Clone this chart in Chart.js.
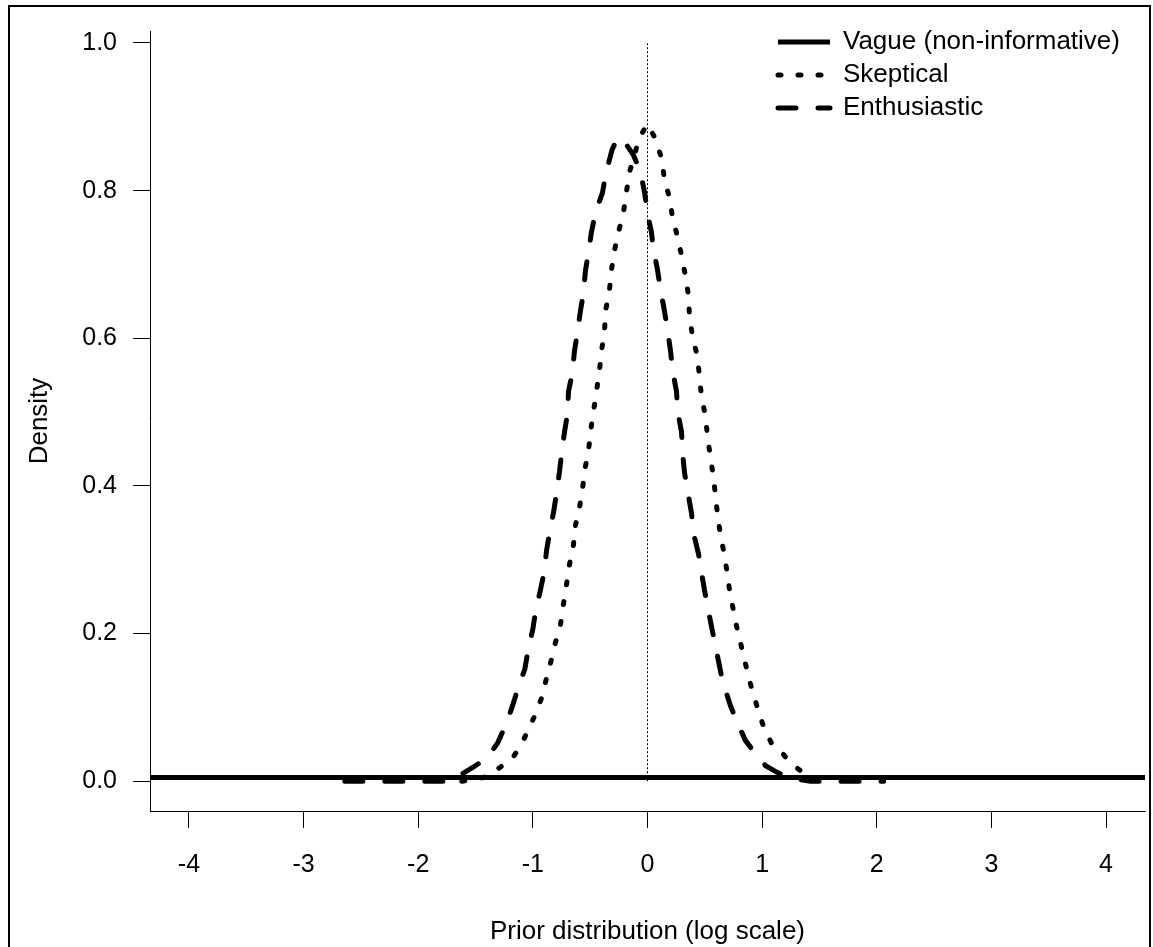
<!DOCTYPE html>
<html>
<head>
<meta charset="utf-8">
<script src="https://cdn.jsdelivr.net/npm/chart.js@4.4.0/dist/chart.umd.min.js"></script>
<style>
  html, body { margin: 0; padding: 0; background: #fff; }
  #wrap { position: relative; width: 1153px; height: 947px; overflow: hidden; }
  #frame { position: absolute; left: 8px; top: 5px; width: 1139px; height: 1000px; border: 2px solid #000; pointer-events: none; }
</style>
</head>
<body>
<div id="wrap">
  <canvas id="chart" width="1153" height="947"></canvas>
  <div id="frame"></div>
</div>
<script>
// prior densities (x = log scale, y = density)
const vagueX = [-100, 100]
const vagueY = [0.005, 0.005]

const skepticalX = [-1.62, -1.43, -1.31, -1.18, -1.10, -1.03, -0.977, -0.916, -0.881, -0.838,
  -0.803, -0.759, -0.733, -0.707, -0.681, -0.646, -0.628, -0.593, -0.567, -0.55,
  -0.515, -0.497, -0.471, -0.445, -0.419, -0.401, -0.375, -0.366, -0.332, -0.314,
  -0.288, -0.253, -0.209, -0.183, -0.157, -0.07, 0, 0.07, 0.122, 0.148,
  0.192, 0.218, 0.262, 0.297, 0.332, 0.358, 0.366, 0.393, 0.436, 0.454,
  0.471, 0.506, 0.524, 0.55, 0.576, 0.593, 0.611, 0.637, 0.672, 0.698,
  0.716, 0.768, 0.829, 0.89, 0.96, 1.01, 1.08, 1.17, 1.26, 1.38,
  1.47, 1.62]
const skepticalY = [0, 0.005, 0.016, 0.031, 0.050, 0.073, 0.091, 0.116, 0.140, 0.165,
  0.188, 0.212, 0.240, 0.266, 0.293, 0.320, 0.347, 0.371, 0.395, 0.420,
  0.447, 0.473, 0.501, 0.528, 0.556, 0.583, 0.609, 0.637, 0.665, 0.693,
  0.719, 0.744, 0.771, 0.799, 0.825, 0.872, 0.890, 0.870, 0.844, 0.815,
  0.790, 0.764, 0.737, 0.712, 0.684, 0.657, 0.630, 0.602, 0.575, 0.547,
  0.521, 0.494, 0.466, 0.438, 0.411, 0.387, 0.361, 0.333, 0.306, 0.279,
  0.259, 0.216, 0.176, 0.136, 0.099, 0.075, 0.052, 0.039, 0.023, 0.009,
  0.001, 0]

const enthusiasticX = [-2.64, -1.75, -1.65, -1.51, -1.40, -1.31, -1.24, -1.18, -1.13, -1.07,
  -1.04, -1.00, -0.977, -0.934, -0.899, -0.881, -0.855, -0.820, -0.794, -0.768,
  -0.750, -0.724, -0.698, -0.689, -0.654, -0.637, -0.611, -0.585, -0.558, -0.541,
  -0.515, -0.489, -0.454, -0.393, -0.366, -0.31, -0.26, -0.2, -0.122, -0.061,
  -0.026, 0, 0.035, 0.052, 0.087, 0.113, 0.148, 0.175, 0.201, 0.218,
  0.253, 0.262, 0.297, 0.305, 0.323, 0.349, 0.384, 0.401, 0.445, 0.471,
  0.497, 0.55, 0.602, 0.654, 0.724, 0.785, 0.855, 0.934, 1.03, 1.13,
  1.23, 1.42, 2.06]
const enthusiasticY = [0, 0, 0.007, 0.020, 0.032, 0.051, 0.075, 0.101, 0.126, 0.152,
  0.179, 0.206, 0.230, 0.259, 0.285, 0.312, 0.336, 0.364, 0.390, 0.419,
  0.443, 0.473, 0.498, 0.528, 0.555, 0.583, 0.608, 0.637, 0.662, 0.692,
  0.716, 0.744, 0.770, 0.797, 0.821, 0.855, 0.872, 0.866, 0.848, 0.825,
  0.798, 0.770, 0.743, 0.720, 0.693, 0.666, 0.637, 0.610, 0.583, 0.557,
  0.528, 0.502, 0.473, 0.447, 0.418, 0.394, 0.363, 0.336, 0.308, 0.283,
  0.259, 0.216, 0.176, 0.136, 0.102, 0.079, 0.055, 0.039, 0.021, 0.012,
  0.005, 0, 0]

// reference line at zero effect
const nullX = [0, 0]
const nullY = [0, 1]

const xTicks = [-4, -3, -2, -1, 0, 1, 2, 3, 4]
const yTicks = [0, 0.2, 0.4, 0.6, 0.8, 1.0]

const FONT = "'Liberation Sans', Arial, sans-serif"
const toPoints = (xs, ys) => xs.map((x, i) => ({ x: x, y: ys[i] }))

// put the (vertical) legend in the top right corner of the plot
const placeLegend = {
    id: 'placeLegend',
    afterLayout(chart) {
        const lg = chart.legend
        if (!lg) return
        const w = lg.width
        const h = lg.height
        lg.left = 771
        lg.top = 22
        lg.right = lg.left + w
        lg.bottom = lg.top + h
    }
}

const config = {
    type: 'scatter',
    data: {
        datasets: [
            {
                label: 'Vague (non-informative)',
                data: toPoints(vagueX, vagueY),
                showLine: true,
                borderColor: '#000',
                borderWidth: 5,
                borderCapStyle: 'butt',
                pointRadius: 0,
                clip: 0
            },
            {
                label: 'Skeptical',
                data: toPoints(skepticalX, skepticalY),
                showLine: true,
                borderColor: '#000',
                borderWidth: 5,
                borderDash: [3, 17],
                borderCapStyle: 'round',
                pointRadius: 0
            },
            {
                label: 'Enthusiastic',
                data: toPoints(enthusiasticX, enthusiasticY),
                showLine: true,
                borderColor: '#000',
                borderWidth: 5,
                borderDash: [18, 22],
                borderCapStyle: 'round',
                pointRadius: 0
            },
            {
                data: toPoints(nullX, nullY),
                showLine: true,
                borderColor: '#000',
                borderWidth: 1,
                borderDash: [2, 2],
                pointRadius: 0
            }
        ]
    },
    options: {
        responsive: false,
        animation: false,
        devicePixelRatio: 1,
        layout: { padding: { left: 0, top: 25, right: 8, bottom: 0 } },
        plugins: {
            tooltip: { enabled: false },
            legend: {
                position: 'chartArea',
                fullSize: false,
                align: 'start',
                labels: {
                    usePointStyle: true,
                    pointStyleWidth: 52,
                    padding: 7,
                    color: '#000',
                    font: { family: FONT, size: 26 },
                    generateLabels: (chart) => chart.data.datasets
                        .map((ds, i) => ({
                            text: ds.label,
                            strokeStyle: ds.borderColor,
                            fillStyle: ds.borderColor,
                            fontColor: '#000',
                            lineWidth: ds.borderWidth,
                            lineDash: ds.borderDash || [],
                            lineCap: ds.borderCapStyle,
                            pointStyle: 'line',
                            hidden: false,
                            datasetIndex: i
                        }))
                        .filter(item => item.text)
                }
            }
        },
        scales: {
            x: {
                type: 'linear',
                min: -4.34,
                max: 4.34,
                afterFit: (scale) => { scale.height = 136 },
                afterBuildTicks: (scale) => { scale.ticks = xTicks.map(v => ({ value: v })) },
                border: { display: true, color: '#000', width: 1 },
                grid: { drawOnChartArea: false, drawTicks: true, tickLength: 17, color: '#000' },
                ticks: {
                    color: '#000',
                    font: { family: FONT, size: 25 },
                    padding: 22,
                    maxRotation: 0,
                    autoSkip: false,
                    callback: (v) => String(v)
                },
                title: {
                    display: true,
                    text: 'Prior distribution (log scale)',
                    color: '#000',
                    font: { family: FONT, size: 26 },
                    padding: { top: 0, bottom: 0 }
                }
            },
            y: {
                type: 'linear',
                min: -0.0403,
                max: 1.0162,
                afterFit: (scale) => { scale.width = 150 },
                afterBuildTicks: (scale) => { scale.ticks = yTicks.map(v => ({ value: v })) },
                border: { display: true, color: '#000', width: 1 },
                grid: { drawOnChartArea: false, drawTicks: true, tickLength: 17, color: '#000' },
                ticks: {
                    color: '#000',
                    font: { family: FONT, size: 25 },
                    padding: 16,
                    autoSkip: false,
                    callback: (v) => v.toFixed(1)
                },
                title: {
                    display: true,
                    text: 'Density',
                    color: '#000',
                    font: { family: FONT, size: 26 },
                    padding: { top: 24, bottom: 0 }
                }
            }
        }
    },
    plugins: [placeLegend]
}

const ctx = document.getElementById('chart').getContext('2d')
const chart = new Chart(ctx, config)
</script>
</body>
</html>
